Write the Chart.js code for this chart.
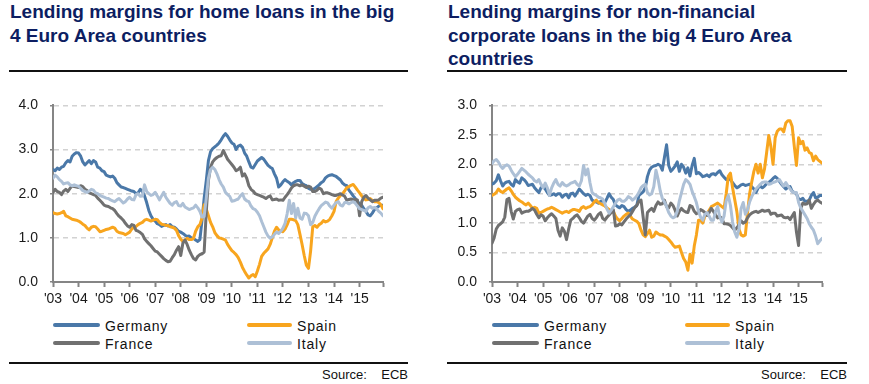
<!DOCTYPE html>
<html>
<head>
<meta charset="utf-8">
<script src="https://cdn.jsdelivr.net/npm/chart.js@4.4.0/dist/chart.umd.min.js"></script>
<style>
  body { margin: 0; width: 869px; height: 384px; background: #fff; position: relative; overflow: hidden;
         font-family: Arial, "Liberation Sans", sans-serif; }
  .title { position: absolute; top: 0; font-weight: bold; font-size: 19px; line-height: 23.5px; color: #0d1e62; white-space: nowrap; }
  .rule { position: absolute; height: 1.5px; background: #111; }
  canvas { position: absolute; }
  .leg { position: absolute; height: 18px; line-height: 18px; font-size: 14px; letter-spacing: 0.8px; color: #111; white-space: nowrap; }
  .leg .sw { position: absolute; left: 0; top: 6px; height: 4px; border-radius: 2px; }
  .src { position: absolute; top: 367px; line-height: 16px; font-size: 13px; color: #111; white-space: pre; text-align: right; }
</style>
</head>
<body>

<div class="title" style="left:10px">Lending margins for home loans in the big<br>4 Euro Area countries</div>
<div class="title" style="left:448px">Lending margins for non-financial<br>corporate loans in the big 4 Euro Area<br>countries</div>
<div class="rule" style="left:9px; top:70px; width:399px"></div>
<div class="rule" style="left:447px; top:70px; width:400px"></div>

<canvas id="homeChart" width="400" height="225" style="left:0; top:85px"></canvas>
<canvas id="corpChart" width="400" height="225" style="left:440px; top:85px"></canvas>

<div id="legends"></div>

<div class="rule" style="left:9px; top:362px; width:399px"></div>
<div class="rule" style="left:447px; top:362px; width:400px"></div>
<div class="src" style="left:0; width:408px">Source:    ECB</div>
<div class="src" style="left:440px; width:407px">Source:    ECB</div>

<script>
// monthly data, Jan 2003 - Dec 2015
const months = Array.from({ length: 156 }, (_, i) => i);
const yearTicks = [0, 12, 24, 36, 48, 60, 72, 84, 96, 108, 120, 132, 144, 155];
const yearLabels = ['03', '04', '05', '06', '07', '08', '09', '10', '11', '12', '13', '14', '15'];

const seriesNames = ['Germany', 'Spain', 'France', 'Italy'];
const seriesColors = ['#4a78a8', '#f8a51e', '#707070', '#adc0d6'];

// home loans
const homeGermany = [
  2.55, 2.52, 2.58, 2.55, 2.6, 2.62, 2.7, 2.75, 2.72, 2.85, 2.9, 2.93,
  2.92, 2.85, 2.72, 2.65, 2.7, 2.75, 2.68, 2.75, 2.72, 2.6, 2.58, 2.52,
  2.5, 2.42, 2.4, 2.38, 2.4, 2.35, 2.25, 2.2, 2.15, 2.14, 2.12, 2.1,
  2.08, 2.06, 2.05, 2.0, 2.02, 2.1, 2.05, 1.95, 1.8, 1.62, 1.5, 1.42,
  1.38, 1.32, 1.3, 1.26, 1.28, 1.3, 1.27, 1.3, 1.25, 1.24, 1.2, 1.15,
  1.13, 1.1, 1.06, 1.03, 1.04, 1.0, 0.99, 0.95, 0.92, 0.96, 1.4, 1.9,
  2.3, 2.75, 2.95, 3.02, 3.06, 3.1, 3.15, 3.22, 3.3, 3.36, 3.3, 3.22,
  3.15, 3.12, 3.0, 3.08, 3.1, 3.05, 2.92, 2.85, 2.72, 2.6, 2.58, 2.66,
  2.74, 2.78, 2.82, 2.78, 2.71, 2.64, 2.6, 2.57, 2.45, 2.35, 2.15, 2.2,
  2.27, 2.32, 2.28, 2.25, 2.2, 2.25, 2.28, 2.3, 2.3, 2.23, 2.2, 2.18,
  2.12, 2.1, 2.1, 2.12, 2.16, 2.2, 2.25, 2.28, 2.36, 2.4, 2.42, 2.43,
  2.41, 2.39, 2.35, 2.31, 2.24, 2.2, 2.18, 2.08, 2.02, 1.95, 1.89, 1.82,
  1.77, 1.74, 1.66, 1.6, 1.52, 1.5, 1.56, 1.64, 1.68, 1.72, 1.74, 1.74
];
const homeSpain = [
  1.57, 1.55, 1.54, 1.55, 1.57, 1.6, 1.5, 1.48, 1.45, 1.42, 1.41, 1.4,
  1.38, 1.35, 1.31, 1.28, 1.22, 1.18, 1.24, 1.26, 1.25, 1.2, 1.14, 1.15,
  1.17, 1.19, 1.2, 1.22, 1.24, 1.22, 1.15, 1.12, 1.11, 1.1, 1.07, 1.1,
  1.13, 1.2, 1.24, 1.26, 1.3, 1.33, 1.35, 1.4, 1.42, 1.4, 1.38, 1.4,
  1.42, 1.41, 1.35, 1.31, 1.3, 1.28, 1.28, 1.25, 1.24, 1.22, 1.17, 1.05,
  0.97, 0.92, 0.95, 0.99, 0.96, 0.96, 0.99, 1.15, 1.25, 1.3, 1.45, 1.75,
  1.65, 1.5, 1.35, 1.25, 1.12, 1.05, 1.0, 0.99, 0.97, 0.95, 0.85, 0.78,
  0.71, 0.67, 0.62, 0.55, 0.45, 0.33, 0.24, 0.16, 0.09, 0.14, 0.17, 0.12,
  0.25, 0.4, 0.58, 0.65, 0.7, 0.75, 0.85, 1.0, 1.15, 1.24, 1.18, 1.15,
  1.14, 1.2, 1.3, 1.42, 1.42, 1.41, 1.39, 1.3, 1.08, 0.85, 0.6, 0.38,
  0.31, 0.7, 1.25, 1.28, 1.24, 1.3, 1.33, 1.39, 1.36, 1.38, 1.42, 1.5,
  1.6, 1.82, 1.9, 1.96, 2.0, 2.06, 2.14, 2.16, 2.19, 2.21, 2.15, 2.08,
  2.02, 1.95, 1.89, 1.86, 1.87, 1.89, 1.85, 1.82, 1.82, 1.8, 1.75, 1.66
];
const homeFrance = [
  2.03, 2.1, 2.05, 2.03, 1.98, 2.06, 2.1, 2.05, 2.12, 2.18, 2.16, 2.15,
  2.14, 2.18, 2.16, 2.1, 2.07, 2.02, 2.0, 1.98, 1.96, 1.9, 1.85, 1.8,
  1.74, 1.72, 1.71, 1.68, 1.66, 1.62, 1.55, 1.49, 1.45, 1.4, 1.33, 1.27,
  1.24, 1.3, 1.28, 1.17, 1.15, 1.12, 1.08, 0.98, 0.92, 0.87, 0.82, 0.76,
  0.7, 0.68, 0.63, 0.58, 0.53, 0.49, 0.46, 0.47, 0.55, 0.62, 0.72, 0.8,
  0.6, 0.88, 0.95, 0.85, 0.72, 0.62, 0.53, 0.5, 0.58, 0.62, 0.64, 0.68,
  1.6, 2.3, 2.6, 2.72, 2.78, 2.82, 2.85, 2.86, 2.98, 2.88, 2.78, 2.72,
  2.66, 2.6, 2.52, 2.55, 2.6, 2.4, 2.45, 2.35, 2.18, 2.1, 2.06, 2.0,
  1.98, 1.96, 1.94, 1.92, 1.89, 1.93, 1.95, 1.86, 1.87, 1.88, 1.85, 1.86,
  1.85, 1.92, 1.98, 2.05, 2.13, 2.18, 2.2, 2.2, 2.18, 2.2, 2.17, 2.14,
  2.17, 2.15, 2.05, 2.05, 2.08, 2.13, 2.1, 2.0, 2.02, 2.02, 2.0, 1.98,
  1.96, 1.96, 1.98, 2.0, 1.97, 1.94, 1.85, 1.87, 1.88, 1.86, 1.87, 1.86,
  1.5, 1.82, 1.92, 1.96, 1.9, 1.86, 1.82, 1.85, 1.85, 1.86, 1.9, 1.92
];
const homeItaly = [
  2.35, 2.42, 2.38, 2.32, 2.28, 2.22, 2.24, 2.25, 2.2, 2.18, 2.2, 2.18,
  2.17, 2.12, 2.07, 2.05, 2.03, 2.06, 2.1, 2.08, 2.02, 2.0, 1.96, 1.94,
  1.92, 1.9, 1.89, 1.86, 1.84, 1.82, 1.86, 1.89, 1.84, 1.79, 1.82, 1.88,
  1.92, 1.87, 1.86, 1.98, 2.0, 1.94, 1.95, 2.2, 2.05, 2.0, 1.96, 1.98,
  2.03, 1.95, 1.86, 1.95, 2.03, 1.92, 1.85, 1.78, 1.74, 1.8, 1.82, 1.73,
  1.72, 1.78, 1.7, 1.67, 1.64, 1.66, 1.68, 1.74, 1.68, 1.6, 1.47, 1.48,
  1.9, 2.35, 2.55, 2.6, 2.55, 2.45, 2.32, 2.22, 2.15, 2.03, 1.98, 1.94,
  1.83, 1.84, 1.86, 1.88, 1.95, 2.0, 1.88, 1.84, 1.82, 1.72, 1.66, 1.64,
  1.58, 1.5, 1.37, 1.25, 1.13, 1.04, 0.99, 1.02, 1.08, 1.13, 1.1, 1.15,
  1.22, 1.33, 1.55, 1.85, 1.55, 1.78, 1.45, 1.67, 1.45, 1.42, 1.56, 1.55,
  1.5, 1.3, 1.35, 1.49, 1.58, 1.66, 1.73, 1.77, 1.81, 1.79, 1.72, 1.67,
  1.74, 1.8, 1.82, 1.74, 1.72, 1.8, 1.8, 1.77, 1.8, 1.82, 1.78, 1.72,
  1.66, 1.64, 1.62, 1.6, 1.68, 1.71, 1.67, 1.69, 1.66, 1.6, 1.56, 1.5
];

// non-financial corporate loans
const corpGermany = [
  1.66, 1.68, 1.72, 1.82, 1.72, 1.63, 1.68, 1.7, 1.71, 1.66, 1.63, 1.74,
  1.7, 1.68, 1.77, 1.74, 1.7, 1.64, 1.65, 1.66, 1.6, 1.56, 1.52, 1.6,
  1.62, 1.58, 1.52, 1.47, 1.48, 1.5, 1.47, 1.5, 1.5, 1.44, 1.48, 1.49,
  1.43, 1.5, 1.51, 1.46, 1.52, 1.58, 1.54, 1.5, 1.47, 1.49, 1.47, 1.39,
  1.37, 1.36, 1.34, 1.37, 1.38, 1.35, 1.42, 1.5, 1.44, 1.4, 1.31, 1.28,
  1.26, 1.3, 1.28, 1.23, 1.2, 1.22, 1.25, 1.27, 1.3, 1.47, 1.5, 1.53,
  1.6, 1.79, 1.9, 1.95, 1.97, 1.98, 2.0, 1.98, 1.9, 2.12, 2.33, 1.98,
  1.88, 1.92, 1.97, 2.04, 1.88, 2.0, 1.95, 1.85, 1.94, 1.8, 1.98, 2.1,
  1.84, 1.86, 1.83, 1.79, 1.8, 1.82, 1.79, 1.83, 1.84, 1.82, 1.86, 1.89,
  1.82, 1.78, 1.74, 1.76, 1.74, 1.69, 1.64, 1.6, 1.62, 1.65, 1.66, 1.64,
  1.65, 1.66, 1.62, 1.58, 1.52, 1.6, 1.63, 1.6, 1.63, 1.67, 1.69, 1.72,
  1.76, 1.79, 1.76, 1.71, 1.66, 1.62, 1.58, 1.61, 1.62, 1.54, 1.52, 1.5,
  1.41, 1.4, 1.42, 1.37, 1.37, 1.39, 1.47, 1.52, 1.43, 1.44, 1.47, 1.47
];
const corpSpain = [
  1.47, 1.49, 1.52, 1.58, 1.54, 1.52, 1.55, 1.58, 1.6, 1.55, 1.49, 1.44,
  1.41, 1.38, 1.36, 1.33, 1.31, 1.34, 1.3, 1.25, 1.27, 1.25, 1.17, 1.18,
  1.2, 1.22, 1.24, 1.25, 1.27, 1.25, 1.23, 1.21, 1.19, 1.17, 1.19, 1.2,
  1.18, 1.21, 1.23, 1.23, 1.22, 1.2, 1.26, 1.28, 1.25, 1.27, 1.28, 1.31,
  1.36, 1.39, 1.35, 1.33, 1.31, 1.29, 1.26, 1.23, 1.21, 1.2, 1.12, 1.07,
  1.04, 1.08, 1.12, 1.15, 1.17, 1.12, 1.07, 1.05, 1.03, 0.99, 0.88, 0.8,
  0.77, 0.82, 0.88, 0.76, 0.78, 0.85, 0.82, 0.8, 0.8, 0.78, 0.76, 0.72,
  0.68, 0.63, 0.59, 0.6, 0.61, 0.5, 0.4, 0.34, 0.2, 0.47, 0.32, 0.61,
  0.8, 1.05, 1.05, 1.0, 1.12, 1.16, 1.22, 1.28, 1.3, 1.32, 1.34, 1.31,
  1.28, 1.25, 1.5, 1.8, 1.85, 1.6, 1.4, 1.2, 0.9, 0.8, 0.78, 0.8,
  1.17, 1.5, 1.7, 1.88, 2.0, 1.85, 2.0, 1.77, 1.92, 2.2, 2.49, 2.3,
  2.0, 2.45, 2.56, 2.6, 2.6, 2.55, 2.7, 2.74, 2.74, 2.64, 2.3, 1.98,
  2.45, 2.35, 2.39, 2.24, 2.28, 2.2, 2.18, 2.06, 2.14, 2.08, 2.05, 2.02
];
const corpFrance = [
  0.66, 0.75, 0.9, 0.96, 0.99, 1.02, 1.1, 1.4, 1.42, 1.2, 1.07, 1.2,
  1.23, 1.24, 1.17, 1.19, 1.2, 1.2, 1.22, 1.25, 1.22, 1.15, 1.09, 1.14,
  1.12, 1.04, 1.09, 1.13, 1.16, 1.12, 1.08, 0.88, 0.78, 0.92, 0.86, 0.72,
  0.9, 1.05, 1.08, 1.12, 1.14, 1.09, 1.03, 1.0, 1.06, 1.12, 1.15, 1.08,
  1.05, 1.09, 1.15, 1.18, 1.08, 1.05, 1.1, 1.14, 1.18, 1.23, 0.95, 0.96,
  0.99, 0.97, 1.02, 1.07, 1.11, 1.14, 1.2, 1.26, 1.3, 1.37, 1.39, 1.1,
  0.8, 1.18, 1.22, 1.25, 1.2, 1.3, 1.36, 1.32, 1.33, 1.39, 1.28, 1.26,
  1.34, 1.3, 1.22, 1.12, 1.2, 1.25, 1.21, 1.19, 1.18, 1.3, 1.28, 1.2,
  1.16, 1.18, 1.23, 1.21, 1.18, 1.13, 1.18, 1.25, 1.2, 1.14, 1.09, 1.11,
  1.08, 0.99, 0.99, 0.98, 0.96, 0.92, 0.88, 0.92, 0.97, 1.04, 1.0, 1.02,
  1.09, 1.14, 1.17, 1.19, 1.2, 1.18, 1.2, 1.22, 1.2, 1.21, 1.22, 1.15,
  1.17, 1.17, 1.12, 1.13, 1.14, 1.1, 1.09, 1.1, 1.06, 1.12, 1.18, 0.85,
  0.62, 1.25, 1.34, 1.32, 1.33, 1.39, 1.25, 1.32, 1.37, 1.39, 1.36, 1.34
];
const corpItaly = [
  2.01, 2.06, 2.08, 2.04, 1.97, 1.93, 1.97, 1.99, 1.97, 1.9, 1.84, 1.79,
  1.83, 1.88, 1.93, 1.9, 1.87, 1.83, 1.8, 1.77, 1.72, 1.7, 1.74, 1.66,
  1.6, 1.68, 1.6, 1.47, 1.6, 1.68, 1.74, 1.66, 1.63, 1.69, 1.65, 1.63,
  1.65, 1.68, 1.69, 1.71, 1.66, 1.63, 1.72, 1.98, 1.82, 1.92, 1.69, 1.52,
  1.49, 1.47, 1.44, 1.43, 1.41, 1.33, 1.24, 1.17, 1.22, 1.28, 1.34, 1.39,
  1.41, 1.37, 1.37, 1.4, 1.45, 1.43, 1.39, 1.42, 1.46, 1.52, 1.6, 1.64,
  1.66, 1.52, 1.48, 1.5, 1.62, 1.9, 1.75, 1.55, 1.42, 1.36, 1.28, 1.18,
  1.12, 1.09, 1.11, 1.2, 1.38, 1.52, 1.66, 1.74, 1.71, 1.66, 1.54, 1.45,
  1.35, 1.2, 1.1, 1.05, 1.15, 1.18, 1.12, 1.05, 1.05, 1.2, 1.28, 1.1,
  1.02, 1.12, 1.38, 1.47, 1.3, 1.02, 0.85, 0.76, 0.9, 1.25, 1.35, 1.15,
  1.22, 1.36, 1.45, 1.52, 1.58, 1.62, 1.66, 1.69, 1.7, 1.7, 1.66, 1.67,
  1.69, 1.7, 1.72, 1.74, 1.68, 1.63, 1.69, 1.63, 1.58, 1.53, 1.52, 1.52,
  1.35, 1.26, 1.2, 1.14, 1.08, 0.99, 0.93, 0.88, 0.78, 0.65, 0.7, 0.74
];

const fontFamily = 'Arial, "Liberation Sans", sans-serif';

function drawChart(id, series, yMax, yStep, axisWidth, rightPad) {
  new Chart(document.getElementById(id), {
    type: 'line',
    data: {
      labels: months,
      datasets: series.map((vals, i) => ({
        label: seriesNames[i],
        data: vals,
        borderColor: seriesColors[i],
        borderWidth: 3,
        pointRadius: 0,
        tension: 0,
        borderJoinStyle: 'round',
        borderCapStyle: 'round',
        order: 4 - i
      }))
    },
    options: {
      responsive: false,
      animation: false,
      events: [],
      layout: { padding: { top: 11, right: rightPad, left: 0, bottom: 0 } },
      plugins: { legend: { display: false }, tooltip: { enabled: false } },
      scales: {
        x: {
          type: 'linear',
          min: 0,
          max: months.length - 1,
          afterBuildTicks: s => { s.ticks = yearTicks.map(v => ({ value: v })); },
          afterFit: s => { s.height = 28; },
          ticks: {
            autoSkip: false, maxRotation: 0, padding: 4, color: '#1a1a1a',
            font: { size: 14, family: fontFamily },
            callback: v => (v % 12 === 0 ? "'" + yearLabels[v / 12] : '')
          },
          grid: { drawOnChartArea: false, tickLength: 5, tickColor: '#858585', tickWidth: 2 },
          border: { color: '#858585', width: 2 }
        },
        y: {
          min: 0,
          max: yMax,
          afterFit: s => { s.width = axisWidth; },
          ticks: {
            stepSize: yStep, padding: 12, color: '#1a1a1a',
            font: { size: 14, family: fontFamily },
            callback: v => v.toFixed(1)
          },
          grid: {
            color: c => (c.tick && c.tick.value === 0 ? 'rgba(0,0,0,0)' : '#d2d2d2'),
            lineWidth: 1.5, tickLength: 3, tickColor: '#858585', tickWidth: 1.5
          },
          border: { color: '#858585', width: 2, dash: [5, 4] }
        }
      }
    }
  });
}

drawChart('homeChart', [homeGermany, homeSpain, homeFrance, homeItaly], 4, 1, 53, 17);
drawChart('corpChart', [corpGermany, corpSpain, corpFrance, corpItaly], 3, 0.5, 52, 18);

// legends (two columns, two rows)
const legendCols = [[53, 247], [492, 685]];
const legendRows = [317, 335];
const swatchWidths = [47, 45];
const holder = document.getElementById('legends');
legendCols.forEach(cols => {
  seriesNames.forEach((name, i) => {
    const col = i % 2, row = Math.floor(i / 2);
    const d = document.createElement('div');
    d.className = 'leg';
    d.style.left = cols[col] + 'px';
    d.style.top = legendRows[row] + 'px';
    d.style.paddingLeft = (swatchWidths[col] + 5) + 'px';
    const sw = document.createElement('span');
    sw.className = 'sw';
    sw.style.width = swatchWidths[col] + 'px';
    sw.style.background = seriesColors[i];
    d.appendChild(sw);
    d.appendChild(document.createTextNode(name));
    holder.appendChild(d);
  });
});
</script>
</body>
</html>
